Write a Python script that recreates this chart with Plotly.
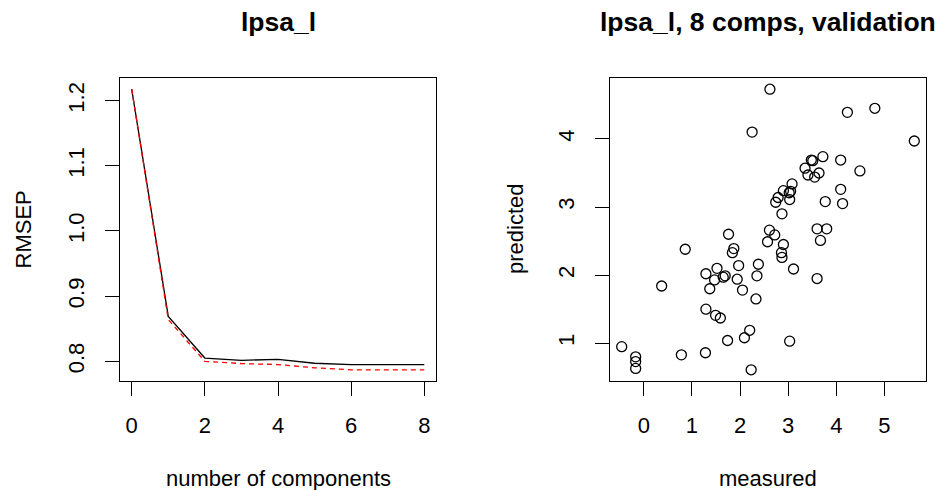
import plotly.graph_objects as go

# ---- data ----
ncomp = [0, 1, 2, 3, 4, 5, 6, 7, 8]
rmsep_cv = [1.2175, 0.869, 0.805, 0.8015, 0.803, 0.797, 0.795, 0.795, 0.795]
rmsep_adjcv = [1.2175, 0.864, 0.800, 0.7965, 0.795, 0.790, 0.787, 0.787, 0.787]

measured = [2.62, 4.80, 4.23, 5.62, 2.25, 3.72, 4.09, 4.49, 3.48, 3.51,
            3.35, 3.41, 3.55, 3.64, 3.08, 2.90, 3.02, 3.05, 3.03, 2.79,
            2.74, 2.87, 3.77, 4.09, 4.13, 3.60, 3.80, 3.67, 2.61, 2.72,
            2.57, 2.90, 2.86, 2.87, 3.11, 3.60, 1.76, 1.87, 1.84, 0.86,
            1.97, 2.38, 2.35, 1.52, 1.29, 1.47, 1.65, 1.69, 1.94, 1.37,
            2.05, 2.33, 0.37, 1.29, 1.49, 1.59, 2.20, 2.09, 1.74, 3.03,
            -0.46, -0.17, -0.17, -0.17, 0.78, 1.28, 2.23]
predicted = [4.73, 4.45, 4.39, 3.97, 4.10, 3.74, 3.69, 3.53, 3.69, 3.68,
             3.57, 3.47, 3.44, 3.50, 3.34, 3.24, 3.21, 3.23, 3.11, 3.14,
             3.07, 2.90, 3.08, 3.26, 3.05, 2.68, 2.68, 2.51, 2.66, 2.59,
             2.49, 2.45, 2.33, 2.26, 2.09, 1.95, 2.60, 2.39, 2.33, 2.38,
             2.14, 2.16, 1.99, 2.10, 2.02, 1.93, 1.97, 1.99, 1.94, 1.80,
             1.78, 1.65, 1.84, 1.50, 1.41, 1.37, 1.19, 1.08, 1.04, 1.03,
             0.95, 0.80, 0.73, 0.63, 0.83, 0.86, 0.61]

left_title = "lpsa_l"
right_title = "lpsa_l, 8 comps, validation"
left_xlab = "number of components"
left_ylab = "RMSEP"
right_xlab = "measured"
right_ylab = "predicted"

W, H = 942, 490
FONT = "Liberation Sans, Arial, Helvetica, sans-serif"


def rrange(vals):
    lo, hi = min(vals), max(vals)
    d = (hi - lo) * 0.04
    return [lo - d, hi + d]


def px(x):
    return x / W


def py(y):
    return 1 - y / H


fig = go.Figure()
fig.add_trace(go.Scatter(x=ncomp, y=rmsep_cv, mode="lines",
                         line=dict(color="black", width=1.3),
                         xaxis="x", yaxis="y", showlegend=False))
fig.add_trace(go.Scatter(x=ncomp, y=rmsep_adjcv, mode="lines",
                         line=dict(color="red", width=1.3, dash="5px,4px"),
                         xaxis="x", yaxis="y", showlegend=False))
fig.add_trace(go.Scatter(x=measured, y=predicted, mode="markers",
                         marker=dict(symbol="circle-open", size=10,
                                     color="black", line=dict(width=1.3, color="black")),
                         xaxis="x2", yaxis="y2", showlegend=False))

axis_common = dict(showline=True, mirror=True, linecolor="black", linewidth=1.2,
                   ticks="outside", ticklen=14, tickwidth=1.2, tickcolor="black",
                   showgrid=False, zeroline=False,
                   tickfont=dict(family=FONT, size=22, color="black"))

fig.update_layout(
    width=W, height=H,
    margin=dict(l=0, r=0, t=0, b=0),
    paper_bgcolor="white", plot_bgcolor="white",
    xaxis=dict(domain=[px(120), px(436)], range=rrange(ncomp), anchor="y",
               tickvals=[0, 2, 4, 6, 8], ticklabelstandoff=10, **axis_common),
    yaxis=dict(domain=[py(381), py(78)], range=rrange(rmsep_cv + rmsep_adjcv), anchor="x",
               tickvals=[0.8, 0.9, 1.0, 1.1, 1.2], ticktext=["0.8", "0.9", "1.0", "1.1", "1.2"],
               tickangle=-90, ticklabelstandoff=12, **axis_common),
    xaxis2=dict(domain=[px(610), px(926)], range=rrange(measured), anchor="y2",
                tickvals=[0, 1, 2, 3, 4, 5], ticklabelstandoff=10, **axis_common),
    yaxis2=dict(domain=[py(381), py(78)], range=rrange(predicted), anchor="x2",
                tickvals=[1, 2, 3, 4], tickangle=-90, ticklabelstandoff=12, **axis_common),
    annotations=[
        dict(text="<b>" + left_title + "</b>", x=px(278), y=py(22), xref="paper", yref="paper",
             showarrow=False, xanchor="center", yanchor="middle",
             font=dict(family=FONT, size=26.5, color="black")),
        dict(text="<b>" + right_title + "</b>", x=px(768), y=py(22), xref="paper", yref="paper",
             showarrow=False, xanchor="center", yanchor="middle",
             font=dict(family=FONT, size=26.5, color="black")),
        dict(text=left_xlab, x=px(278), y=py(478), xref="paper", yref="paper",
             showarrow=False, xanchor="center", yanchor="middle",
             font=dict(family=FONT, size=22, color="black")),
        dict(text=right_xlab, x=px(768), y=py(478), xref="paper", yref="paper",
             showarrow=False, xanchor="center", yanchor="middle",
             font=dict(family=FONT, size=22, color="black")),
        dict(text=left_ylab, x=px(23), y=py(229.5), xref="paper", yref="paper",
             showarrow=False, xanchor="center", yanchor="middle", textangle=-90,
             font=dict(family=FONT, size=22, color="black")),
        dict(text=right_ylab, x=px(515), y=py(229), xref="paper", yref="paper",
             showarrow=False, xanchor="center", yanchor="middle", textangle=-90,
             font=dict(family=FONT, size=22, color="black")),
    ],
)

fig.write_html("out.html")
